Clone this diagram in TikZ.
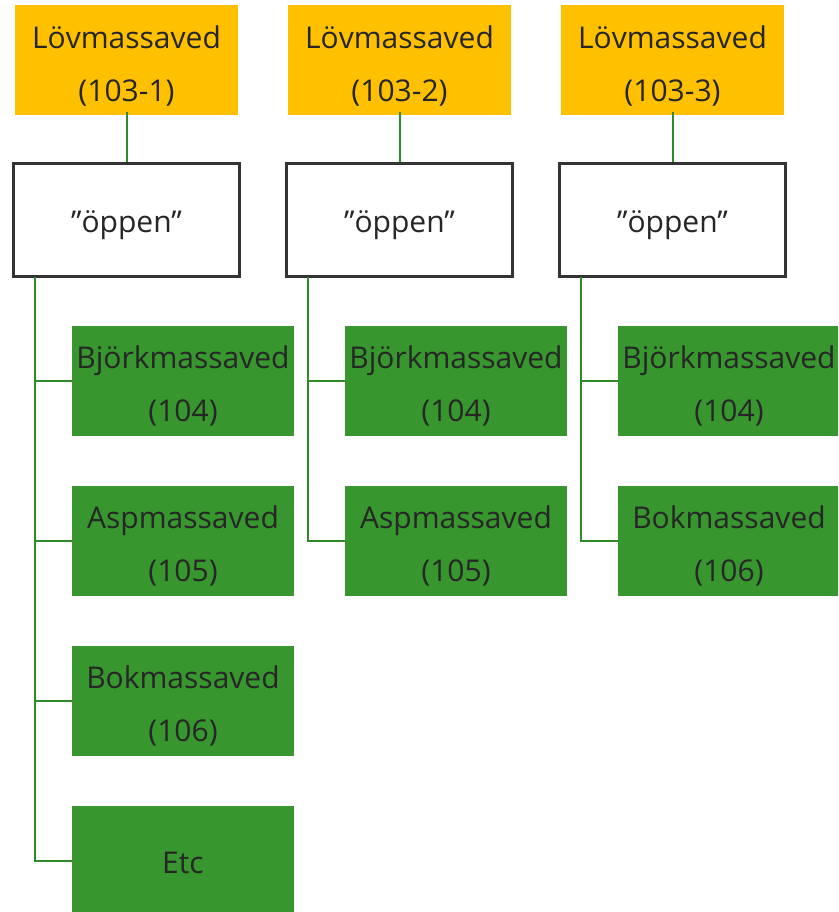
\documentclass[tikz,border=0pt]{standalone}
\usepackage{fontspec}
\setmainfont{Open Sans}
\usepackage{tikz}
\definecolor{lovgul}{HTML}{FFC000}
\definecolor{tradgron}{HTML}{37962E}
\definecolor{linjegron}{HTML}{2F8A2A}
\definecolor{texgra}{HTML}{262626}
\newcommand{\tvarad}[2]{\rule{0pt}{37.5pt}#1\\#2}

\begin{document}
\begin{tikzpicture}[x=1pt,y=-1pt,
  every node/.style={inner sep=0pt,text=texgra,align=center,font=\fontsize{30}{53}\selectfont,
    execute at begin node={\rule{0pt}{32.5pt}},execute at end node={\rule[-8pt]{0pt}{8pt}}},
  sortbox/.style={fill=lovgul,minimum width=223pt,minimum height=110pt},
  oppenbox/.style={draw=black!80,line width=2.5pt,fill=white,minimum width=226pt,minimum height=113pt},
  tradbox/.style={fill=tradgron,minimum width=222pt,minimum height=110pt},
  gren/.style={draw=linjegron,line width=2pt}]
\useasboundingbox (0,0) rectangle (838,912);
\begin{scope}
\clip (0,0) rectangle (838,912);
% sortiment
\node [sortbox] (L1) at (126.5,60) {\tvarad{Lövmassaved}{(103-1)}};
\node [sortbox] (L2) at (399.5,60) {\tvarad{Lövmassaved}{(103-2)}};
\node [sortbox] (L3) at (672.5,60) {\tvarad{Lövmassaved}{(103-3)}};
\node [oppenbox] (O1) at (126.5,220) {”öppen”};
\node [oppenbox] (O2) at (399.5,220) {”öppen”};
\node [oppenbox] (O3) at (672.5,220) {”öppen”};
% kolumn 1
\node [tradbox] (B1) at (183,380.5) {\tvarad{Björkmassaved}{(104)}};
\node [tradbox] (A1) at (183,540.5) {\tvarad{Aspmassaved}{(105)}};
\node [tradbox] (K1) at (183,700.5) {\tvarad{Bokmassaved}{(106)}};
\node [tradbox] (E1) at (183,861) {Etc};
% kolumn 2
\node [tradbox] (B2) at (456,380.5) {\tvarad{Björkmassaved}{(104)}};
\node [tradbox] (A2) at (456,540.5) {\tvarad{Aspmassaved}{(105)}};
% kolumn 3
\node [tradbox] (B3) at (729,380.5) {\tvarad{Björkmassaved}{(104)}};
\node [tradbox] (K3) at (729,540.5) {\tvarad{Bokmassaved}{(106)}};
% linjer
\draw [gren] ([yshift=3pt]L1.south) -- (O1.north);
\draw [gren] ([yshift=3pt]L2.south) -- (O2.north);
\draw [gren] ([yshift=3pt]L3.south) -- (O3.north);
\coordinate (S1) at ([xshift=23pt,yshift=1.25pt]O1.south west);
\coordinate (S2) at ([xshift=23pt,yshift=1.25pt]O2.south west);
\coordinate (S3) at ([xshift=23pt,yshift=1.25pt]O3.south west);
\draw [gren] (S1) |- (B1.west);
\draw [gren] (S1) |- (A1.west);
\draw [gren] (S1) |- (K1.west);
\draw [gren] (S1) |- (E1.west);
\draw [gren] (S2) |- (B2.west);
\draw [gren] (S2) |- (A2.west);
\draw [gren] (S3) |- (B3.west);
\draw [gren] (S3) |- (K3.west);
\end{scope}
\end{tikzpicture}
\end{document}
